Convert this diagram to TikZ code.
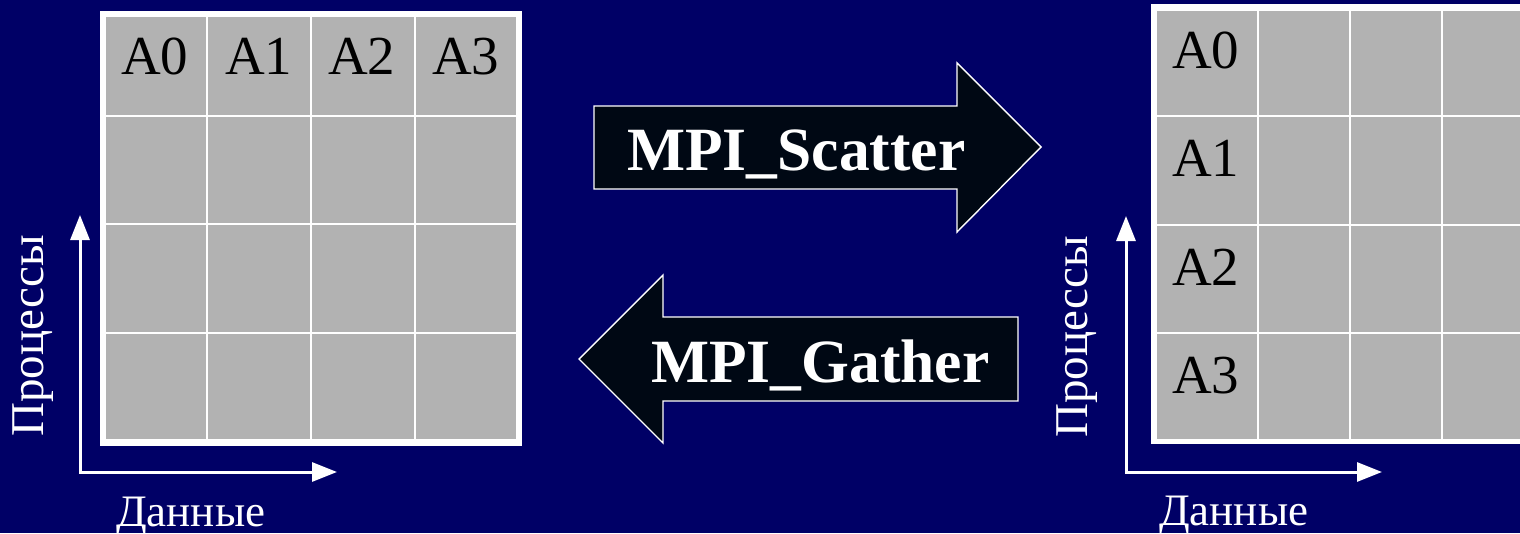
\documentclass[tikz,border=0pt]{standalone}
\usepackage{fontspec}
\setmainfont{Liberation Serif}
\usetikzlibrary{arrows.meta}
\definecolor{slidebg}{HTML}{000066}
\definecolor{cellgrey}{HTML}{B2B2B2}
\definecolor{arrowfill}{HTML}{000814}
\newcommand\cellsize{\fontsize{55}{62}\selectfont}
\newcommand\axissize{\fontsize{47}{54}\selectfont}
\newcommand\datasize{\fontsize{45}{52}\selectfont}
\newcommand\opsize{\fontsize{61.5}{68}\selectfont\bfseries}
\tikzset{
  gridcell/.style={fill=cellgrey},
  celltext/.style={inner sep=0pt, anchor=base west, text=black, font=\cellsize},
  axislabel/.style={inner sep=0pt, anchor=base west, text=white, font=\axissize},
  datalabel/.style={axislabel, font=\datasize},
  axisline/.style={draw=white, line width=3pt, line join=miter,
    {Triangle[length=25pt,width=19pt]}-{Triangle[length=25pt,width=19pt]}},
  blockarrow/.style={fill=arrowfill, draw=white, line width=1.4pt, line join=miter},
  optext/.style={inner sep=0pt, anchor=base west, text=white, font=\opsize}
}
\begin{document}
\begin{tikzpicture}[x=1pt,y=-1pt]
  \fill[slidebg] (0,0) rectangle (1520,533);
  \useasboundingbox (0,0) rectangle (1520,533);

  % ---------- left matrix: the root holds A0..A3 in its first row ----------
  \fill[white] (100,11) rectangle (522,446);
  \foreach \xa/\xb [count=\c] in {105/207,207/311,311/415,415/517}
    \foreach \ya/\yb [count=\r] in {16/116,116/224,224/333,333/440}
      \fill[gridcell] (\xa+1,\ya+1) rectangle (\xb-1,\yb-1);
  \node[celltext] (l0) at (121,74) {A0};
  \node[celltext] (l1) at (225,74) {A1};
  \node[celltext] (l2) at (328,74) {A2};
  \node[celltext] (l3) at (432,74) {A3};

  % axes of the left matrix
  \coordinate (lo) at (80,472);
  \coordinate (lup) at (80,215);
  \coordinate (lright) at (337,472);
  \draw[axisline] (lup) -- (lo) -- (lright);
  \node[axislabel, rotate=90] (lproc) at (43,437) {Процессы};
  \node[datalabel] (ldata) at (116,526) {Данные};

  % ---------- block arrows ----------
  \draw[blockarrow] (594,106) -- (957,106) -- (957,63) -- (1041,147)
    -- (957,232) -- (957,189) -- (594,189) -- cycle;
  \node[optext] (scatter) at (627,170) {MPI\_Scatter};

  \draw[blockarrow] (1018,317) -- (663,317) -- (663,275) -- (579,359)
    -- (663,443) -- (663,401) -- (1018,401) -- cycle;
  \node[optext] (gather) at (651,382) {MPI\_Gather};

  % ---------- right matrix: each process holds one block ----------
  \fill[white] (1151,4) rectangle (1550,444);
  \foreach \xa/\xb [count=\c] in {1156/1258,1258/1350,1350/1442,1442/1545}
    \foreach \ya/\yb [count=\r] in {10/116,116/225,225/333,333/440}
      \fill[gridcell] (\xa+1,\ya+1) rectangle (\xb-1,\yb-1);
  \node[celltext] (r0) at (1172,68) {A0};
  \node[celltext] (r1) at (1172,176) {A1};
  \node[celltext] (r2) at (1172,285) {A2};
  \node[celltext] (r3) at (1172,393) {A3};

  % axes of the right matrix
  \coordinate (ro) at (1126,472);
  \coordinate (rup) at (1126,216);
  \coordinate (rright) at (1382,472);
  \draw[axisline] (rup) -- (ro) -- (rright);
  \node[axislabel, rotate=90] (rproc) at (1087,438) {Процессы};
  \node[datalabel] (rdata) at (1159,525) {Данные};
\end{tikzpicture}
\end{document}
